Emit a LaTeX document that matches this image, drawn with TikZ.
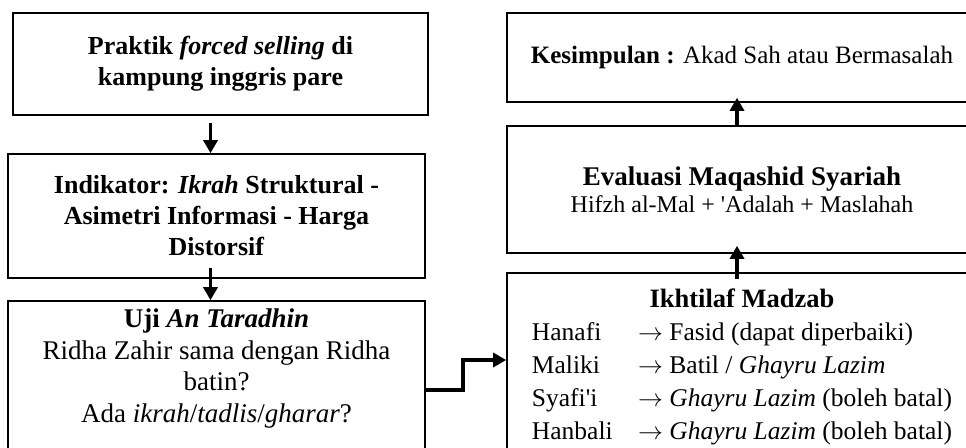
\documentclass[tikz,border=0pt]{standalone}
\usepackage{fontspec}
\setmainfont{Liberation Serif}
\usetikzlibrary{arrows.meta}

\begin{document}
\begin{tikzpicture}[x=1pt,y=-1pt,>={Triangle[length=13pt,width=14pt]},line width=3.5pt,
    main box/.style={rectangle,draw,line width=1.6pt,inner sep=0pt},
    left text/.style={font=\fontsize{26}{31}\selectfont,align=center},
    right text/.style={font=\fontsize{25}{33}\selectfont,align=center}]

            \useasboundingbox (0,0) rectangle (966,447);
            \clip (0,0) rectangle (966,447);

            % left column
            \node[main box, left text, minimum width=415pt, minimum height=102pt] (1) at (220.5,64)
                {\textbf{Praktik \textit{forced selling} di}\\ \textbf{kampung inggris pare}};
            \node[main box, left text, minimum width=417pt, minimum height=124pt] (2) at (216.5,216)
                {\textbf{Indikator: \textit{Ikrah} Struktural -}\\ \textbf{Asimetri Informasi - Harga}\\ \textbf{Distorsif}};
            \node[main box, minimum width=417pt, minimum height=170pt] (3) at (216.5,386) {};
            \node[left text, font=\fontsize{27}{31.5}\selectfont, anchor=north, inner ysep=7pt] (3t) at (3.north)
                {\textbf{Uji \textit{An Taradhin}}\\ Ridha Zahir sama dengan Ridha\\ batin?\\
                 Ada \textit{ikrah}/\textit{tadlis}/\textit{gharar}?};

            % right column
            \node[main box, right text, minimum width=470pt, minimum height=89pt] (4) at (742,57.5)
                {\textbf{Kesimpulan :} Akad Sah atau Bermasalah};
            \node[main box, right text, font=\fontsize{24}{27}\selectfont, minimum width=470pt, minimum height=127pt] (5) at (742,189.5)
                {{\fontsize{27}{27}\selectfont\textbf{Evaluasi Maqashid Syariah}}\\ Hifzh al-Mal + \textquotesingle Adalah + Maslahah};
            \node[main box, minimum width=470pt, minimum height=200pt] (6) at (742,373) {};
            \node[right text, font=\fontsize{25.5}{33}\selectfont, anchor=north, inner ysep=10pt] (6t) at (6.north)
                {\begin{tabular}{@{}l@{\hspace{1em}}l@{}}
                 \multicolumn{2}{c}{\fontsize{26.5}{33}\selectfont\textbf{Ikhtilaf Madzab}}\\
                 Hanafi & $\rightarrow$ Fasid (dapat diperbaiki)\\
                 Maliki & $\rightarrow$ Batil / \textit{Ghayru Lazim}\\
                 Syafi\textquotesingle i & $\rightarrow$ \textit{Ghayru Lazim} (boleh batal)\\
                 Hanbali & $\rightarrow$ \textit{Ghayru Lazim} (boleh batal)
                 \end{tabular}};

            \draw[->] ([xshift=-10pt,yshift=-7pt]1.south) to ([xshift=-6pt]2.north);
            \draw[->] ([xshift=-6pt,yshift=11pt]2.south) to ([xshift=-6pt]3.north);
            \draw[->] ([yshift=-4pt]3.east) -- ++(37,0) |- ([yshift=13pt]6.west);
            \draw[->] ([xshift=-5pt,yshift=-7pt]6.north) to ([xshift=-5pt,yshift=8pt]5.south);
            \draw[->] ([xshift=-5pt]5.north) to ([xshift=-5pt,yshift=5pt]4.south);

\end{tikzpicture}
\end{document}
